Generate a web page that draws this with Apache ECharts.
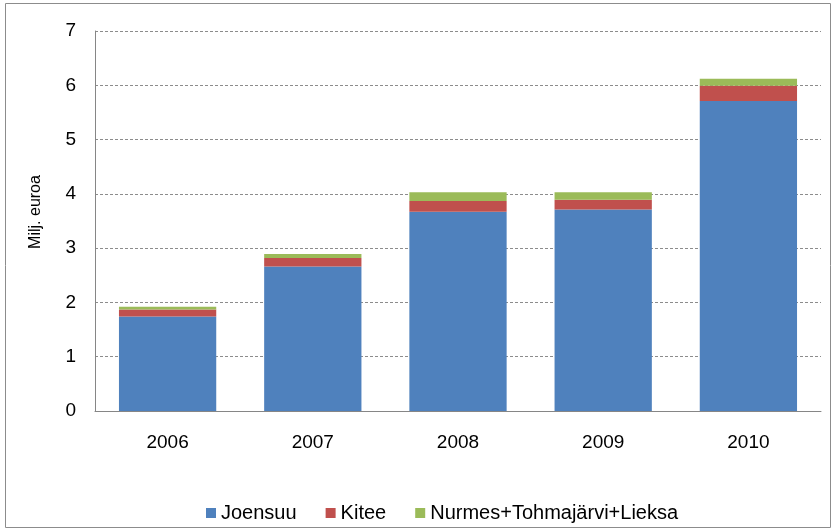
<!DOCTYPE html>
<html>
<head>
<meta charset="utf-8">
<script src="https://cdn.jsdelivr.net/npm/echarts@6/dist/echarts.min.js"></script>
<style>
  html, body { margin: 0; padding: 0; background: #fff; }
  #chart { width: 836px; height: 531px; }
</style>
</head>
<body>
<div id="chart"></div>
<script>
const years = ['2006', '2007', '2008', '2009', '2010']
const joensuu = [1.74, 2.66, 3.67, 3.71, 5.71]
const kitee = [0.13, 0.16, 0.20, 0.18, 0.28]
const nurmes = [0.05, 0.07, 0.16, 0.14, 0.13]

const chart = echarts.init(document.getElementById('chart'))
const font = 'Liberation Sans, Arial, sans-serif'

chart.setOption({
  animation: false,
  textStyle: { fontFamily: font },
  graphic: [{
    type: 'rect',
    shape: { x: 5.5, y: 3.5, width: 825, height: 524 },
    style: { fill: 'none', stroke: '#8c8c8c', lineWidth: 1 },
    silent: true
  }, {
    // y axis title
    type: 'text',
    x: 36,
    y: 212,
    rotation: Math.PI / 2,
    style: {
      text: 'Milj. euroa',
      fill: '#000',
      font: '16px ' + font,
      align: 'center',
      verticalAlign: 'middle'
    },
    silent: true
  }],
  grid: { left: 95, right: 15, top: 31, bottom: 120 },
  legend: {
    top: 498,
    left: 201,
    itemWidth: 10,
    itemHeight: 10,
    itemGap: 29,
    icon: 'rect',
    textStyle: { fontSize: 20, color: '#000', fontFamily: font },
    data: ['Joensuu', 'Kitee', 'Nurmes+Tohmajärvi+Lieksa']
  },
  xAxis: {
    type: 'category',
    data: years,
    axisTick: { show: false },
    axisLine: { lineStyle: { color: '#868686' } },
    axisLabel: { fontSize: 19, color: '#000', margin: 22 }
  },
  yAxis: {
    type: 'value',
    min: 0,
    max: 7,
    interval: 1,
    axisLine: { show: true, lineStyle: { color: '#868686' } },
    axisTick: { show: false },
    axisLabel: { fontSize: 19, color: '#000', margin: 19 },
    splitLine: { lineStyle: { color: '#8c8c8c', type: [3, 2] } }
  },
  series: [
    { name: 'Joensuu', type: 'bar', stack: 'a', data: joensuu, barWidth: '67%', itemStyle: { color: '#4F81BD' } },
    { name: 'Kitee', type: 'bar', stack: 'a', data: kitee, itemStyle: { color: '#C0504D' } },
    { name: 'Nurmes+Tohmajärvi+Lieksa', type: 'bar', stack: 'a', data: nurmes, itemStyle: { color: '#9BBB59' } }
  ]
})
</script>
</body>
</html>
